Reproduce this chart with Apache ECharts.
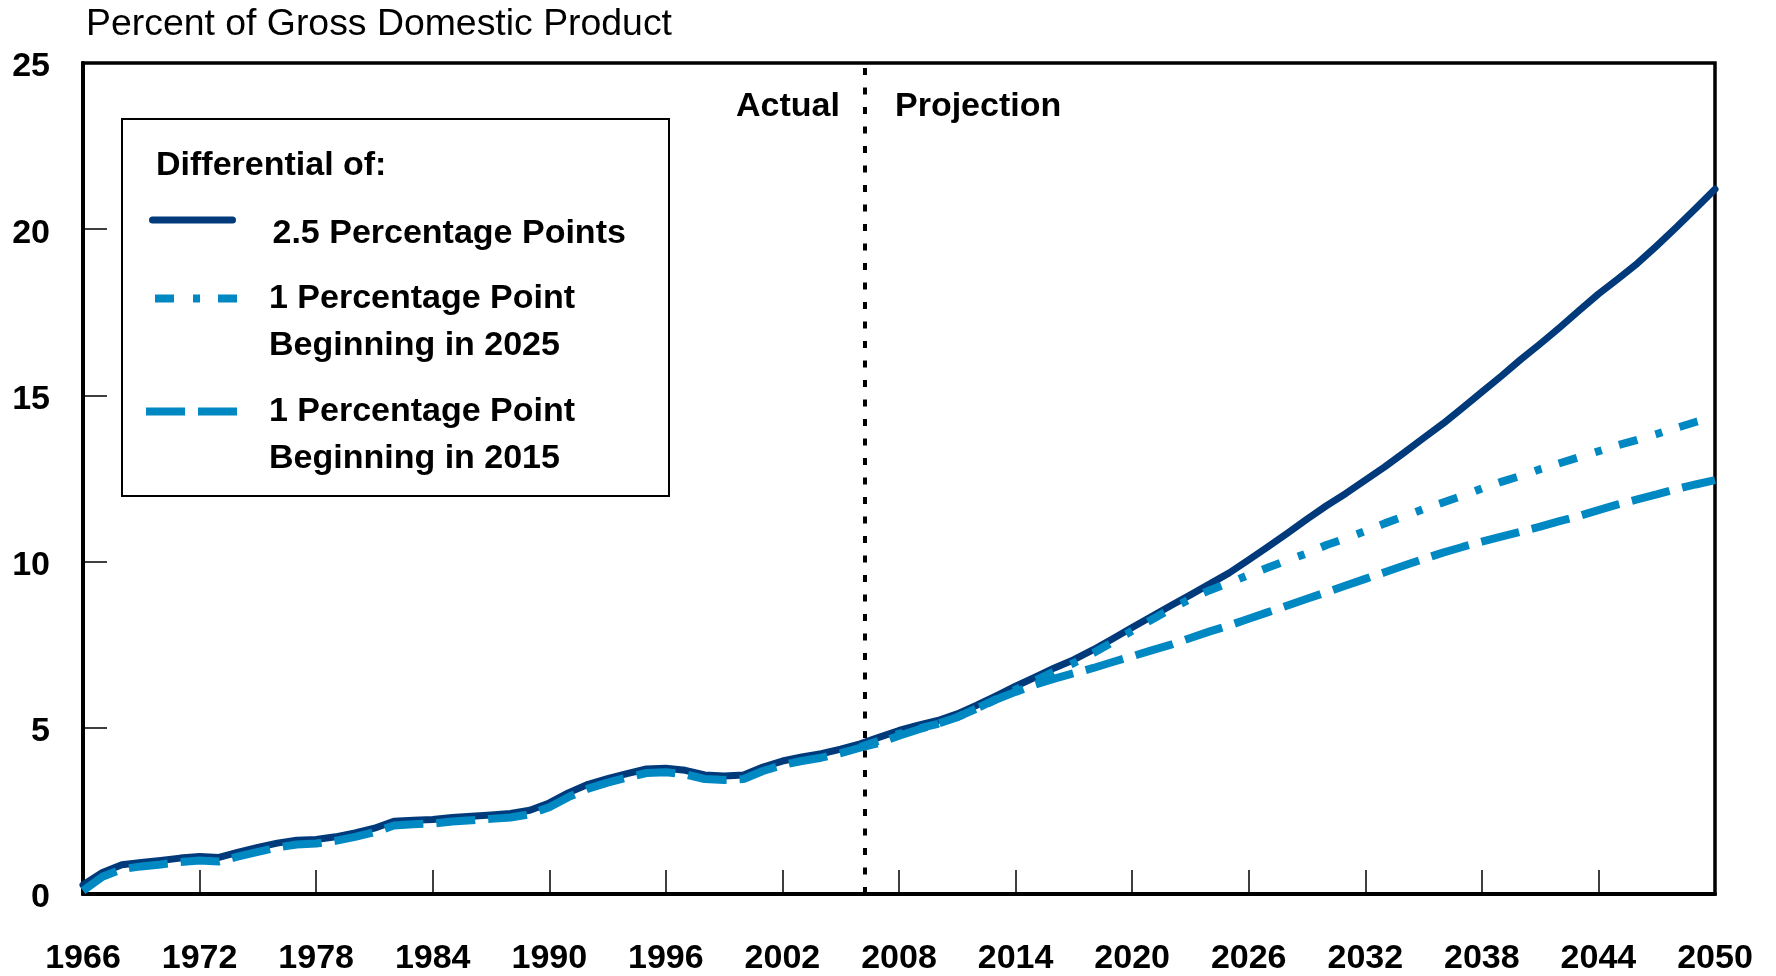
<!DOCTYPE html>
<html>
<head>
<meta charset="utf-8">
<title>Percent of Gross Domestic Product</title>
<script src="https://cdn.jsdelivr.net/npm/echarts@6/dist/echarts.min.js"></script>
<style>
	html, body { margin: 0; padding: 0; background: #fff; }
	#chart { width: 1776px; height: 976px; }
</style>
</head>
<body>
<div id="chart"></div>
<script>
var years = [
	1966, 1967, 1968, 1969, 1970, 1971, 1972, 1973, 1974, 1975,
	1976, 1977, 1978, 1979, 1980, 1981, 1982, 1983, 1984, 1985,
	1986, 1987, 1988, 1989, 1990, 1991, 1992, 1993, 1994, 1995,
	1996, 1997, 1998, 1999, 2000, 2001, 2002, 2003, 2004, 2005,
	2006, 2007, 2008, 2009, 2010, 2011, 2012, 2013, 2014, 2015,
	2016, 2017, 2018, 2019, 2020, 2021, 2022, 2023, 2024, 2025,
	2026, 2027, 2028, 2029, 2030, 2031, 2032, 2033, 2034, 2035,
	2036, 2037, 2038, 2039, 2040, 2041, 2042, 2043, 2044, 2045,
	2046, 2047, 2048, 2049, 2050
];

// 2.5 percentage points differential
var diff25 = [
	0.27, 0.65, 0.88, 0.95, 1.01, 1.08, 1.13, 1.10, 1.26, 1.40,
	1.53, 1.62, 1.64, 1.72, 1.84, 1.98, 2.19, 2.22, 2.24, 2.30,
	2.34, 2.38, 2.42, 2.52, 2.74, 3.05, 3.30, 3.47, 3.62, 3.76,
	3.78, 3.72, 3.58, 3.55, 3.58, 3.82, 4.00, 4.12, 4.22, 4.36,
	4.52, 4.72, 4.92, 5.08, 5.22, 5.42, 5.68, 5.96, 6.25, 6.52,
	6.80, 7.05, 7.35, 7.68, 8.02, 8.35, 8.68, 9.00, 9.33, 9.66,
	10.05, 10.45, 10.86, 11.28, 11.68, 12.05, 12.45, 12.85, 13.28, 13.72,
	14.15, 14.62, 15.10, 15.58, 16.08, 16.55, 17.04, 17.55, 18.05, 18.50,
	18.97, 19.50, 20.05, 20.62, 21.20
];

// 1 percentage point beginning in 2025 (projection part only)
var diff1From2025 = [
	null, null, null, null, null, null, null, null, null, null,
	null, null, null, null, null, null, null, null, null, null,
	null, null, null, null, null, null, null, null, null, null,
	null, null, null, null, null, null, null, null, null, null,
	4.42, 4.62, 4.82, 4.98, 5.12, 5.32, 5.58, 5.86, 6.15, 6.42,
	6.70, 6.95, 7.25, 7.58, 7.92, 8.25, 8.58, 8.88, 9.14, 9.36,
	9.60, 9.82, 10.04, 10.25, 10.50, 10.70, 10.92, 11.15, 11.36, 11.58,
	11.78, 11.98, 12.20, 12.40, 12.58, 12.78, 12.96, 13.14, 13.32, 13.50,
	13.66, 13.84, 14.02, 14.20, 14.36
];

// 1 percentage point beginning in 2015
var diff1From2015 = [
	0.10, 0.52, 0.75, 0.83, 0.89, 0.96, 1.01, 0.98, 1.13, 1.27,
	1.40, 1.49, 1.52, 1.60, 1.72, 1.86, 2.06, 2.10, 2.12, 2.18,
	2.22, 2.26, 2.30, 2.40, 2.61, 2.92, 3.17, 3.35, 3.50, 3.64,
	3.66, 3.60, 3.46, 3.43, 3.46, 3.70, 3.88, 4.00, 4.10, 4.24,
	4.40, 4.55, 4.76, 4.95, 5.12, 5.32, 5.58, 5.85, 6.08, 6.30,
	6.48, 6.64, 6.80, 6.98, 7.15, 7.33, 7.50, 7.70, 7.90, 8.08,
	8.28, 8.48, 8.68, 8.88, 9.08, 9.28, 9.48, 9.68, 9.88, 10.08,
	10.27, 10.44, 10.60, 10.75, 10.90, 11.05, 11.22, 11.37, 11.55, 11.72,
	11.87, 12.02, 12.18, 12.32, 12.45
];

var xTickLabels = [1966, 1972, 1978, 1984, 1990, 1996, 2002, 2008, 2014, 2020, 2026, 2032, 2038, 2044, 2050];
var yTickLabels = [0, 5, 10, 15, 20, 25];
var actualProjectionSplit = 2006.25;

var seriesNames = ['2.5 Percentage Points', '1 Percentage Point Beginning in 2025', '1 Percentage Point Beginning in 2015'];
var legendLines = [
	['2.5 Percentage Points'],
	['1 Percentage Point', 'Beginning in 2025'],
	['1 Percentage Point', 'Beginning in 2015']
];

var colors = {
	navy: '#003a7b',
	cyan: '#0088c2',
	ink: '#000000'
};

var boldFont = "'Liberation Sans', Arial, sans-serif";
var plainFont = "'Liberation Sans', Arial, sans-serif";
var boldSize = 34;
var textLineHeight = 47;

function pairs(values) {
	var out = [];
	for (var i = 0; i < years.length; i++) {
		out.push([years[i], values[i]]);
	}
	return out;
}

// one legend per series so every key can be placed like the original box
// the text is vertically centred on the key, so a blank rich line on top pushes the label down
function legendFor(name, lines, left, top, itemWidth, lineWidth, gapAbove, padLeft) {
	var rows = ['{gap| }'];
	for (var i = 0; i < lines.length; i++) rows.push('{t|' + lines[i] + '}');
	var text = rows.join('\n');

	return {
		data: [name],
		orient: 'vertical',
		left: left,
		top: top,
		padding: 0,
		itemGap: 0,
		itemWidth: itemWidth,
		itemHeight: 8,
		selectedMode: false,
		itemStyle: { opacity: 0 },
		lineStyle: { width: lineWidth, opacity: 1 },
		formatter: function () { return text; },
		textStyle: {
			fontFamily: boldFont,
			fontWeight: 'bold',
			fontSize: boldSize,
			color: colors.ink,
			padding: [0, 0, 0, padLeft],
			rich: {
				gap: { fontSize: 10, lineHeight: gapAbove },
				t: {
					fontFamily: boldFont,
					fontWeight: 'bold',
					fontSize: boldSize,
					lineHeight: textLineHeight,
					color: colors.ink
				}
			}
		}
	};
}

function boldTitle(text, left, top) {
	return {
		text: text,
		left: left,
		top: top,
		padding: 0,
		textStyle: { fontFamily: boldFont, fontWeight: 'bold', fontSize: boldSize, lineHeight: textLineHeight, color: colors.ink }
	};
}

var chart = echarts.init(document.getElementById('chart'));

var option = {
	animation: false,
	backgroundColor: '#fff',
	title: [
		{
			text: 'Percent of Gross Domestic Product',
			left: 86, top: 6, padding: 0,
			textStyle: { fontFamily: plainFont, fontWeight: 'normal', fontSize: 37.4, lineHeight: 37, color: colors.ink }
		},
		boldTitle('Actual', 736, 83),
		boldTitle('Projection', 895, 83),
		boldTitle('Differential of:', 156, 142)
	],
	graphic: [
		{
			// legend frame
			type: 'rect',
			z: 3,
			shape: { x: 122, y: 119, width: 547, height: 377 },
			style: { fill: '#fff', stroke: colors.ink, lineWidth: 2 }
		}
	],
	legend: [
		legendFor(seriesNames[0], legendLines[0], 149, 191.5, 80, 7, 28, 35),
		legendFor(seriesNames[1], legendLines[1], 151, 246.5, 84, 8, 47, 25),
		legendFor(seriesNames[2], legendLines[2], 142, 359.5, 93, 8, 47, 25)
	],
	grid: {
		left: 83,
		right: 61,
		top: 63,
		bottom: 79,
		show: true,
		borderColor: colors.ink,
		borderWidth: 3.5,
		backgroundColor: 'transparent'
	},
	xAxis: {
		type: 'value',
		min: xTickLabels[0],
		max: xTickLabels[xTickLabels.length - 1],
		interval: 6,
		axisLine: { show: true, lineStyle: { color: colors.ink, width: 4 } },
		axisTick: { show: true, inside: true, length: 24, lineStyle: { color: colors.ink, width: 1.5 } },
		splitLine: { show: false },
		axisLabel: {
			show: true,
			margin: 48,
			showMinLabel: true,
			showMaxLabel: true,
			fontFamily: boldFont,
			fontWeight: 'bold',
			fontSize: boldSize,
			color: colors.ink,
			formatter: function (v) { return String(v); }
		}
	},
	yAxis: {
		type: 'value',
		min: yTickLabels[0],
		max: yTickLabels[yTickLabels.length - 1],
		interval: 5,
		axisLine: { show: true, lineStyle: { color: colors.ink, width: 4 } },
		axisTick: { show: true, inside: true, length: 24, lineStyle: { color: colors.ink, width: 1.5 } },
		splitLine: { show: false },
		axisLabel: {
			margin: 33,
			fontFamily: boldFont,
			fontWeight: 'bold',
			fontSize: boldSize,
			color: colors.ink,
			// labels sit a little below their ticks in the original
			formatter: function (v) { return '{v|' + v + '}'; },
			rich: {
				v: {
					fontFamily: boldFont,
					fontWeight: 'bold',
					fontSize: boldSize,
					color: colors.ink,
					padding: [8, 0, 0, 0]
				}
			}
		}
	},
	series: [
		{
			name: seriesNames[0],
			type: 'line',
			symbol: 'none',
			showSymbol: false,
			data: pairs(diff25),
			lineStyle: { color: colors.navy, width: 7, cap: 'round', join: 'round' },
			itemStyle: { color: colors.navy },
			markLine: {
				silent: true,
				symbol: 'none',
				label: { show: false },
				lineStyle: { color: colors.ink, width: 4, type: [7, 12.5] },
				data: [{ xAxis: actualProjectionSplit }]
			}
		},
		{
			name: seriesNames[1],
			type: 'line',
			symbol: 'none',
			showSymbol: false,
			connectNulls: false,
			data: pairs(diff1From2025),
			lineStyle: { color: colors.cyan, width: 8, type: [19, 19, 7, 18] },
			itemStyle: { color: colors.cyan }
		},
		{
			name: seriesNames[2],
			type: 'line',
			symbol: 'none',
			showSymbol: false,
			data: pairs(diff1From2015),
			lineStyle: { color: colors.cyan, width: 8, type: [39, 13] },
			itemStyle: { color: colors.cyan }
		}
	]
};

chart.setOption(option);
</script>
</body>
</html>
